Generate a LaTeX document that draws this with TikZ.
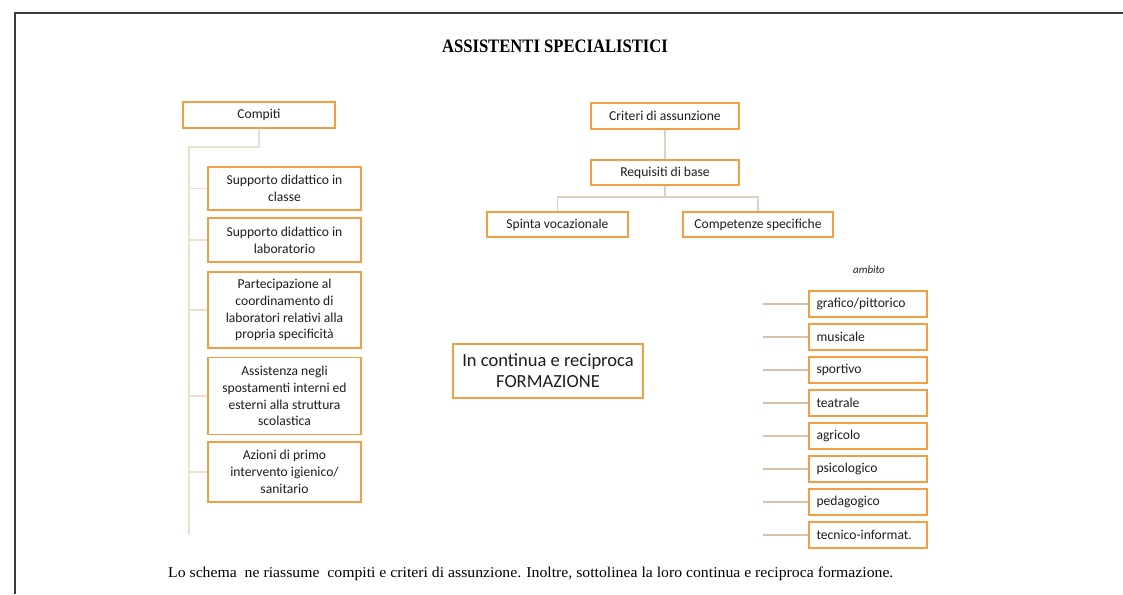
\documentclass[tikz,border=0pt]{standalone}
\usepackage{fontspec}
\setmainfont{Carlito}
\newfontfamily\titlefont[FakeStretch=0.875]{Liberation Serif}
\newfontfamily\notefont[FakeStretch=1.05]{Liberation Serif}

\definecolor{boxorange}{RGB}{242,158,66}
\definecolor{ink}{RGB}{30,30,30}
\definecolor{linkleft}{RGB}{234,224,210}
\definecolor{linkright}{RGB}{216,194,170}
\definecolor{linkmid}{RGB}{220,210,196}
\definecolor{framegray}{RGB}{60,60,60}

\tikzset{
  box/.style={draw=boxorange, line width=1.8pt, fill=white, text=ink,
    font=\fontsize{13.6}{16.8}\selectfont, align=center, inner sep=0pt},
  leftbox/.style={box, minimum width=153pt},
  ambitobox/.style={box, minimum width=118pt, minimum height=26pt,
    text width=103pt, align=left},
  linkL/.style={draw=linkleft, line width=1.3pt},
  linkM/.style={draw=linkmid, line width=1.2pt},
  linkR/.style={draw=linkright, line width=1.1pt},
}

\begin{document}
\begin{tikzpicture}[x=1pt,y=-1pt]
  \path[use as bounding box] (0,0) rectangle (1123,594);

  % page frame
  \draw[framegray, line width=2pt] (1123,13.5) -- (15,13.5) -- (15,594);

  % title
  \node[text=black, font=\titlefont\bfseries\fontsize{19}{22}\selectfont] (title) at (555,46) {ASSISTENTI SPECIALISTICI};

  % tasks column
  \node[box, minimum width=152pt, minimum height=26pt] (compiti) at (259,115) {Compiti};
  \node[leftbox, minimum height=43pt] (s1) at (284.5,188.5) {Supporto didattico in\\classe};
  \node[leftbox, minimum height=44pt] (s2) at (284.5,240) {Supporto didattico in\\laboratorio};
  \node[leftbox, minimum height=76pt] (s3) at (284.5,310) {Partecipazione al\\coordinamento di\\laboratori relativi alla\\propria specificità};
  \node[leftbox, minimum height=77pt] (s4) at (284.5,396) {Assistenza negli\\spostamenti interni ed\\esterni alla struttura\\scolastica};
  \node[leftbox, minimum height=60pt] (s5) at (284.5,472) {Azioni di primo\\intervento igienico/\\sanitario};

  \coordinate (ltop) at (189,147);
  \coordinate (lbot) at (189,535);
  \draw[linkL] (compiti.south) |- (ltop) -- (lbot);
  \foreach \n in {s1,s2,s3,s4,s5}
    \draw[linkL] (\n.west) -- (\n.west -| ltop);

  % hiring criteria
  \node[box, minimum width=148pt, minimum height=26pt] (crit) at (665,116) {Criteri di assunzione};
  \node[box, minimum width=148pt, minimum height=25pt] (req) at (665,172.5) {Requisiti di base};
  \node[box, minimum width=141pt, minimum height=25pt] (spinta) at (557.5,224.5) {Spinta vocazionale};
  \node[box, minimum width=150pt, minimum height=25pt] (comp) at (758,224.5) {Competenze specifiche};

  \coordinate (bar) at (665,197);
  \draw[linkM] (crit) -- (req);
  \draw[linkM] (req.south) -- (bar);
  \draw[linkM] (spinta.north) |- (bar) -| (comp.north);

  % central note
  \node[box, minimum width=190pt, minimum height=54pt, line width=1.5pt,
        font=\fontsize{18.5}{21}\selectfont] (form) at (548,371) {In continua e reciproca\\FORMAZIONE};

  % fields
  \node[text=ink, font=\itshape\fontsize{11}{13}\selectfont] (ambito) at (869,270) {ambito};
  \coordinate (rail) at (763,300);
  \foreach \t [count=\i from 0] in {grafico/pittorico,musicale,sportivo,teatrale,agricolo,psicologico,pedagogico,tecnico-informat.}{
    \node[ambitobox] (a\i) at (868,{304+33*\i}) {\t};
    \draw[linkR] (a\i.west) -- (a\i.west -| rail);
  }

  % caption
  \node[anchor=west, inner sep=0pt, text=black, font=\notefont\fontsize{15}{18}\selectfont] (note) at (168,574)
    {Lo schema\ \ ne riassume\ \ compiti e criteri di assunzione. Inoltre, sottolinea la loro continua e reciproca formazione.};
\end{tikzpicture}
\end{document}
